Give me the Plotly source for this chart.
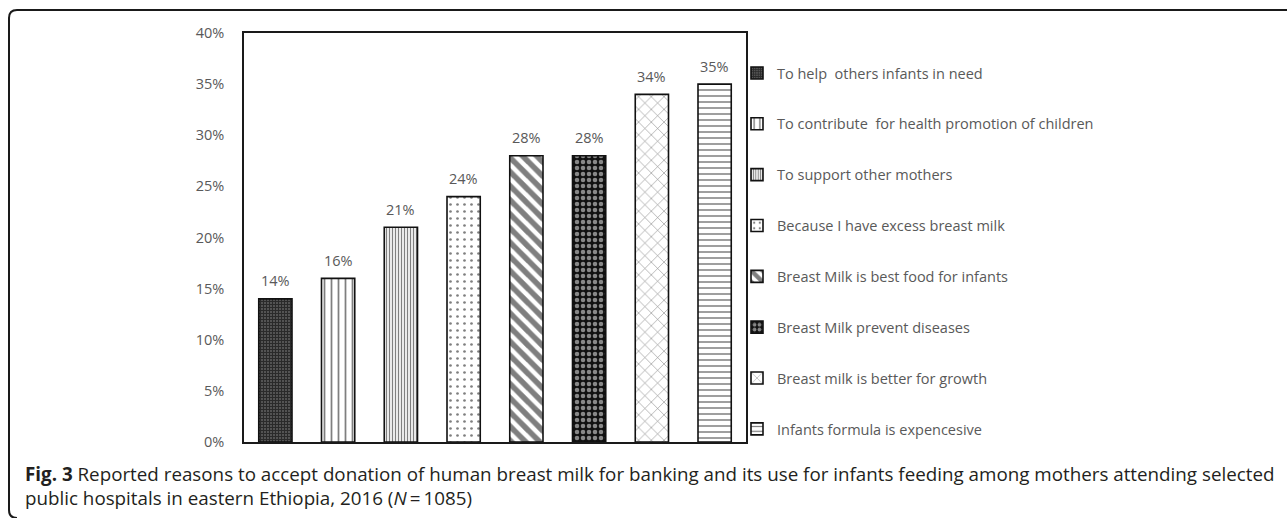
import plotly.graph_objects as go

# ---- data ----
reasons = [
    "To help\u00a0 others infants in need",
    "To contribute\u00a0 for health promotion of children",
    "To support other mothers",
    "Because I have excess breast milk",
    "Breast Milk is best food for infants",
    "Breast Milk prevent diseases",
    "Breast milk is better for growth",
    "Infants formula is expencesive",
]
percent = [0.14, 0.16, 0.21, 0.24, 0.28, 0.28, 0.34, 0.35]
y_ticks = [0, 0.05, 0.10, 0.15, 0.20, 0.25, 0.30, 0.35, 0.40]

# ---- styles ----
patterns = [
    dict(shape="+", size=3, solidity=0.6, fgcolor="black", bgcolor="#555555"),
    dict(shape="|", size=7, solidity=0.25, fgcolor="black", bgcolor="white"),
    dict(shape="|", size=3, solidity=0.45, fgcolor="black", bgcolor="white"),
    dict(shape=".", size=7, solidity=0.12, fgcolor="black", bgcolor="white"),
    dict(shape="\\", size=10, solidity=0.55, fgcolor="black", bgcolor="white"),
    dict(shape=".", size=6, solidity=0.45, fgcolor="white", bgcolor="#111111"),
    dict(shape="x", size=9, solidity=0.12, fgcolor="black", bgcolor="white"),
    dict(shape="-", size=6, solidity=0.25, fgcolor="black", bgcolor="white"),
]

W, H = 1287, 518
L, R, T, B = 244, 746, 33, 442


def px_x(p):
    return (p - L) / (R - L)


def px_y(p):
    return (B - p) / (B - T)


GRAY = "#595959"
FONT = "Open Sans"

fig = go.Figure()
for i, (name, val) in enumerate(zip(reasons, percent)):
    fig.add_trace(go.Bar(
        x=[i], y=[val], name=name, width=0.53,
        legendgroup=f"g{i}",
        marker=dict(color="white", pattern=patterns[i],
                    line=dict(color="#111111", width=1.6)),
        hoverinfo="skip",
    ))
    fig.add_annotation(x=i, y=val, text=f"{round(val*100)}%", showarrow=False,
                       xref="x", yref="y", yanchor="middle", yshift=18,
                       font=dict(size=14.5, color=GRAY, family=FONT))

# outer rounded frame (top-left corner rounded)
r = 8
x0, y0 = 9, 10
path = (f"M {px_x(W+5)},{px_y(y0)} L {px_x(x0+r)},{px_y(y0)} "
        f"Q {px_x(x0)},{px_y(y0)} {px_x(x0)},{px_y(y0+r)} "
        f"L {px_x(x0)},{px_y(H-r)} "
        f"Q {px_x(x0)},{px_y(H)} {px_x(x0+r)},{px_y(H)}")
fig.add_shape(type="path", path=path, xref="paper", yref="paper",
              line=dict(color="#1a1a1a", width=2))

cap_font = dict(family="Open Sans", size=18.8, color="#231f20")
fig.add_annotation(
    text="<b>Fig. 3</b> Reported reasons to accept donation of human breast milk for banking and its use for infants feeding among mothers attending selected",
    xref="paper", yref="paper", x=px_x(23), y=px_y(474), xanchor="left", yanchor="middle",
    showarrow=False, font=cap_font)
fig.add_annotation(
    text="public hospitals in eastern Ethiopia, 2016 (<i>N</i>\u2009=\u20091085)",
    xref="paper", yref="paper", x=px_x(23), y=px_y(498), xanchor="left", yanchor="middle",
    showarrow=False, font=cap_font)

fig.update_layout(
    width=W, height=H,
    margin=dict(l=L, r=W - R, t=T, b=H - B, autoexpand=False),
    paper_bgcolor="white", plot_bgcolor="white",
    barmode="overlay",
    showlegend=True,
    hovermode=False,
    legend=dict(x=px_x(737), xanchor="left", y=px_y(57), yanchor="top",
                font=dict(size=14.5, color=GRAY, family=FONT),
                tracegroupgap=29, bgcolor="rgba(0,0,0,0)", itemclick=False),
    xaxis=dict(range=[-0.5, 7.5], showticklabels=False, ticks="", showgrid=False,
               zeroline=False, showline=True, linecolor="#1a1a1a", linewidth=1.5, mirror=True),
    yaxis=dict(range=[0, 0.40], tickvals=y_ticks, tickformat=".0%", showgrid=False,
               zeroline=False, showline=True, linecolor="#1a1a1a", linewidth=1.5, mirror=True,
               ticks="", ticklabelstandoff=15,
               tickfont=dict(size=14.5, color=GRAY, family=FONT)),
)

fig.write_html("out.html", config={"displayModeBar": False},
               post_script="document.body.style.margin='0';")
